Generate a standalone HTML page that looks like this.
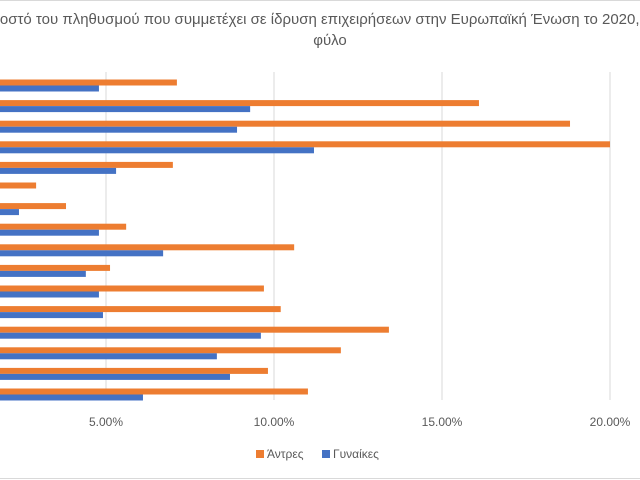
<!DOCTYPE html>
<html><head><meta charset="utf-8"><style>
html,body{margin:0;padding:0;background:#fff;}
svg{display:block;font-family:"Liberation Sans","DejaVu Sans",sans-serif;}
</style></head><body>
<svg id="chart" width="640" height="480">
<line x1="0" y1="0.5" x2="640" y2="0.5" stroke="#d9d9d9"/>
<line x1="0" y1="478.5" x2="640" y2="478.5" stroke="#d9d9d9"/>
<text x="320" y="24" text-anchor="middle" font-size="15" fill="#595959">Ποσοστό του πληθυσμού που συμμετέχει σε ίδρυση επιχειρήσεων στην Ευρωπαϊκή Ένωση το 2020, ανά</text>
<text x="330" y="45" text-anchor="middle" font-size="15" fill="#595959">φύλο</text>
<g id="grid"></g><g id="bars"></g><g id="ticks"></g>
<g>
<rect x="256" y="450" width="8" height="8" fill="#ed7d31"/>
<text x="267" y="458" font-size="12" fill="#595959">Άντρες</text>
<rect x="322" y="450" width="8" height="8" fill="#4472c4"/>
<text x="333" y="458" font-size="12" fill="#595959">Γυναίκες</text>
</g>
</svg>
<script>
const categories = ["c1","c2","c3","c4","c5","c6","c7","c8","c9","c10","c11","c12","c13","c14","c15","c16"];
const men = [7.11,16.1,18.81,20.0,6.99,2.92,3.81,5.6,10.6,5.12,9.7,10.2,13.42,11.99,9.82,11.01];
const women = [4.79,9.29,8.9,11.19,5.3,0,2.41,4.79,6.7,4.4,4.79,4.91,9.61,8.3,8.69,6.1];
const ticks = [5,10,15,20];
const tickLabels = ["5.00%","10.00%","15.00%","20.00%"];
const NS="http://www.w3.org/2000/svg";
const x = v => -62 + v*33.6;
const y0 = 79.5, step = 20.6, bh = 6;
const grid=document.getElementById('grid'), bars=document.getElementById('bars'), tk=document.getElementById('ticks');
ticks.forEach((t,i)=>{
  const l=document.createElementNS(NS,'line');
  l.setAttribute('x1',x(t));l.setAttribute('x2',x(t));l.setAttribute('y1',72);l.setAttribute('y2',400);
  l.setAttribute('stroke','#d9d9d9');
  
  
  grid.appendChild(l);
  const tx=document.createElementNS(NS,'text');
  tx.setAttribute('x',x(t));tx.setAttribute('y',426);tx.setAttribute('text-anchor','middle');
  tx.setAttribute('font-size','12');tx.setAttribute('fill','#595959');
  tx.textContent=tickLabels[i];
  
  
  tk.appendChild(tx);
});
categories.forEach((c,i)=>{
  const yy=y0+i*step;
  const a=document.createElementNS(NS,'rect');
  a.setAttribute('x',0);a.setAttribute('y',yy);a.setAttribute('width',Math.max(0,x(men[i])));a.setAttribute('height',bh);
  a.setAttribute('fill','#ed7d31');
  
  
  bars.appendChild(a);
  if(women[i]>0){
  const b=document.createElementNS(NS,'rect');
  b.setAttribute('x',0);b.setAttribute('y',yy+bh);b.setAttribute('width',Math.max(0,x(women[i])));b.setAttribute('height',bh);
  b.setAttribute('fill','#4472c4');
  
  
  bars.appendChild(b);
  }
});
</script>
</body></html>
